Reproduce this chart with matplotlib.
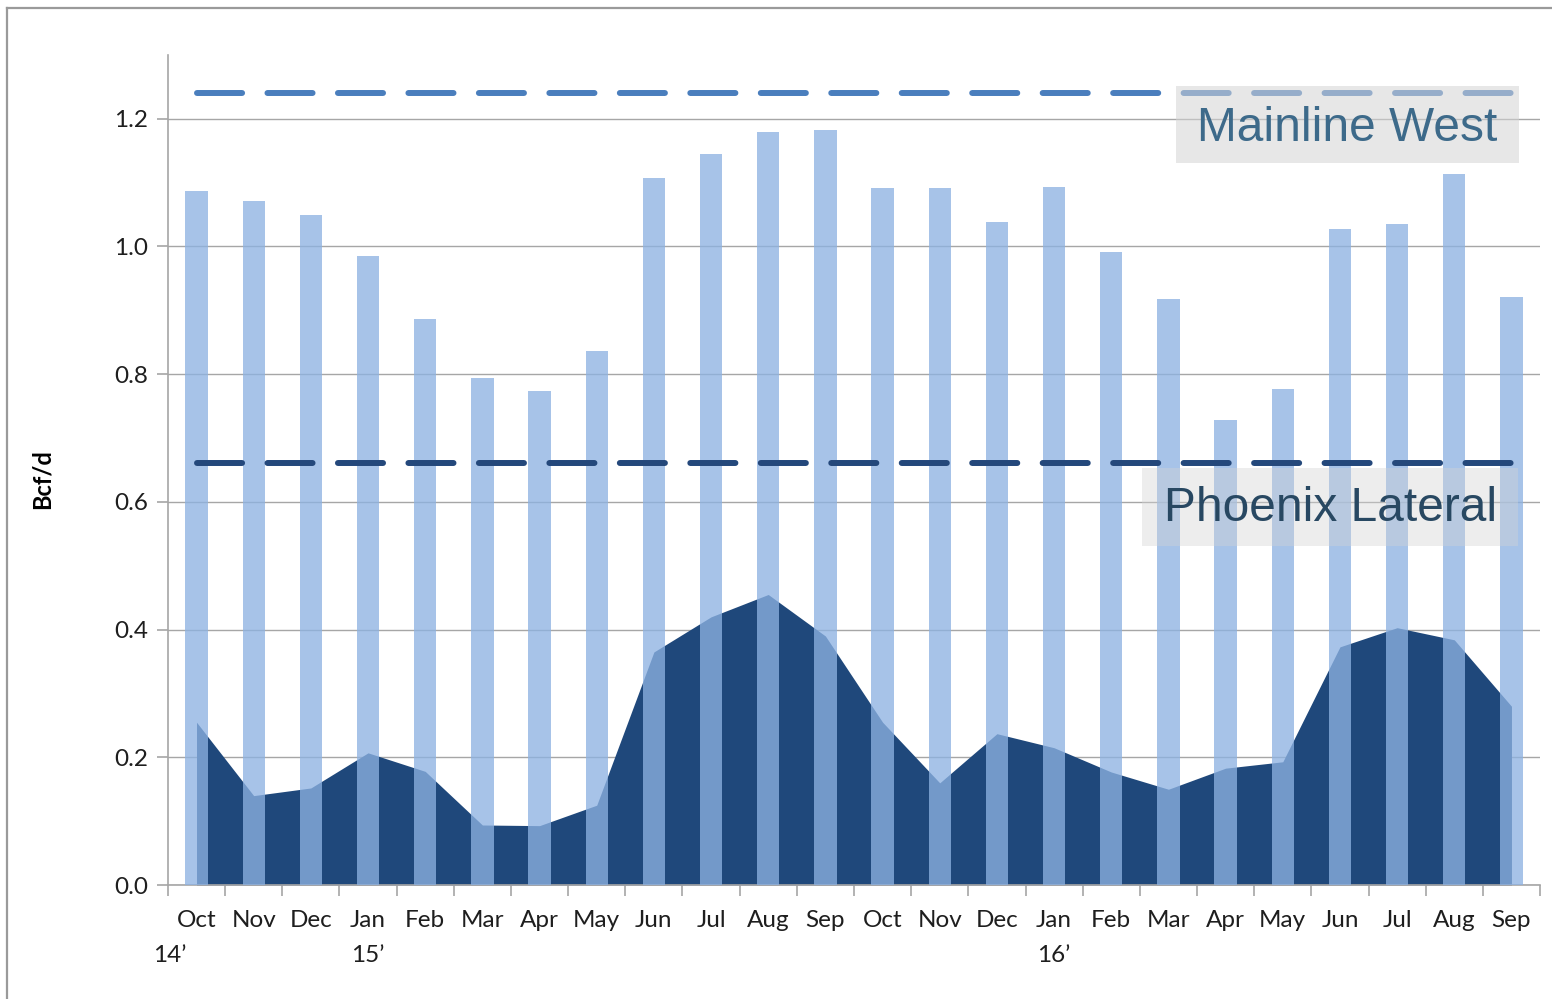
import matplotlib.pyplot as plt
from matplotlib.lines import Line2D
from matplotlib.patches import Rectangle

# monthly flows, Oct 2014 - Sep 2016 (Bcf/d)
months = ["Oct", "Nov", "Dec", "Jan", "Feb", "Mar", "Apr", "May", "Jun", "Jul", "Aug", "Sep",
          "Oct", "Nov", "Dec", "Jan", "Feb", "Mar", "Apr", "May", "Jun", "Jul", "Aug", "Sep"]
year_marks = {0: "14\u2019", 3: "15\u2019", 15: "16\u2019"}

mainline_flow = [1.087, 1.071, 1.050, 0.985, 0.886, 0.794, 0.774, 0.837, 1.107, 1.145, 1.179, 1.182,
                 1.091, 1.091, 1.039, 1.093, 0.992, 0.918, 0.729, 0.777, 1.028, 1.035, 1.114, 0.921]
phoenix_flow = [0.255, 0.140, 0.152, 0.207, 0.178, 0.094, 0.093, 0.125, 0.365, 0.420, 0.455, 0.390,
                0.255, 0.160, 0.237, 0.215, 0.177, 0.150, 0.183, 0.193, 0.373, 0.403, 0.384, 0.280]

mainline_capacity = 1.241
phoenix_capacity = 0.661

plt.rcParams['font.family'] = ['Lato', 'DejaVu Sans']

fig = plt.figure(figsize=(15.52, 9.99), dpi=100)
ax = fig.add_axes([0.1082, 0.1141, 0.8841, 0.8309])

x = list(range(len(months)))

# dark area for Phoenix Lateral, bars for Mainline West on top
ax.fill_between(x, phoenix_flow, color="#1F487B", linewidth=0, zorder=2)
ax.bar(x, mainline_flow, width=0.39, color=(141/255, 178/255, 226/255), alpha=0.77,
       linewidth=0, zorder=3)

# capacity lines
ax.plot([0, len(x) - 1], [mainline_capacity] * 2, color="#4A7EBD", lw=4.3,
        dashes=(7.55, 4.25), dash_capstyle="round", zorder=4)
ax.plot([0, len(x) - 1], [phoenix_capacity] * 2, color="#24487B", lw=4.3,
        dashes=(7.55, 4.25), dash_capstyle="round", zorder=4)

# label boxes
ax.add_patch(Rectangle((17.13, 1.131), 6.0, 0.121, facecolor="#D5D5D5", alpha=0.55,
                       linewidth=0, zorder=5))
ax.text(20.13, 1.185, "Mainline West", fontsize=34.5, color="#3D6A8A",
        family="Liberation Sans", ha="center", va="center", zorder=6)
ax.add_patch(Rectangle((16.54, 0.531), 6.57, 0.122, facecolor="#D4D4D4", alpha=0.4,
                       linewidth=0, zorder=5))
ax.text(19.83, 0.589, "Phoenix Lateral", fontsize=34.5, color="#284862",
        family="Liberation Sans", ha="center", va="center", zorder=6)

ax.set_xlim(-0.5, len(x) - 0.5)
ax.set_ylim(0, 1.30)
ax.set_yticks([0.0, 0.2, 0.4, 0.6, 0.8, 1.0, 1.2])
ax.set_yticklabels(["0.0", "0.2", "0.4", "0.6", "0.8", "1.0", "1.2"])
ax.yaxis.grid(True, color="#A6A6A6", linewidth=1.0, zorder=0)
ax.set_axisbelow(True)

# month labels centred, tick marks between categories
ax.set_xticks([i - 0.5 for i in range(len(x) + 1)])
ax.set_xticklabels([])
ax.tick_params(axis="x", direction="out", length=8, color="#A6A6A6", width=1.2)
ax.tick_params(axis="y", direction="out", length=8, color="#A6A6A6", width=1.2,
               labelsize=17.5, pad=6, labelcolor="#1E1E1E")
for i, m in enumerate(months):
    ax.text(i, -0.043, m, fontsize=17.5, color="#1E1E1E", ha="center", va="center",
            transform=ax.get_xaxis_transform())
for i, y in year_marks.items():
    off = -0.47 if i == 0 else 0
    ax.text(i + off, -0.085, y, fontsize=17.5, color="#1E1E1E", ha="center", va="center",
            transform=ax.get_xaxis_transform())

for side in ["top", "right"]:
    ax.spines[side].set_visible(False)
for side in ["left", "bottom"]:
    ax.spines[side].set_color("#A6A6A6")
    ax.spines[side].set_linewidth(1.2)

fig.text(0.027, 0.52, "Bcf/d", rotation=90, fontsize=17, fontweight="bold",
         ha="center", va="center")

# outer frame
fig.add_artist(Line2D([0.0048, 0.0048], [0, 0.992], color="#9A9A9A", lw=1.6))
fig.add_artist(Line2D([0.0048, 1], [0.992, 0.992], color="#9A9A9A", lw=1.6))

fig.savefig("out.png", dpi=100)
